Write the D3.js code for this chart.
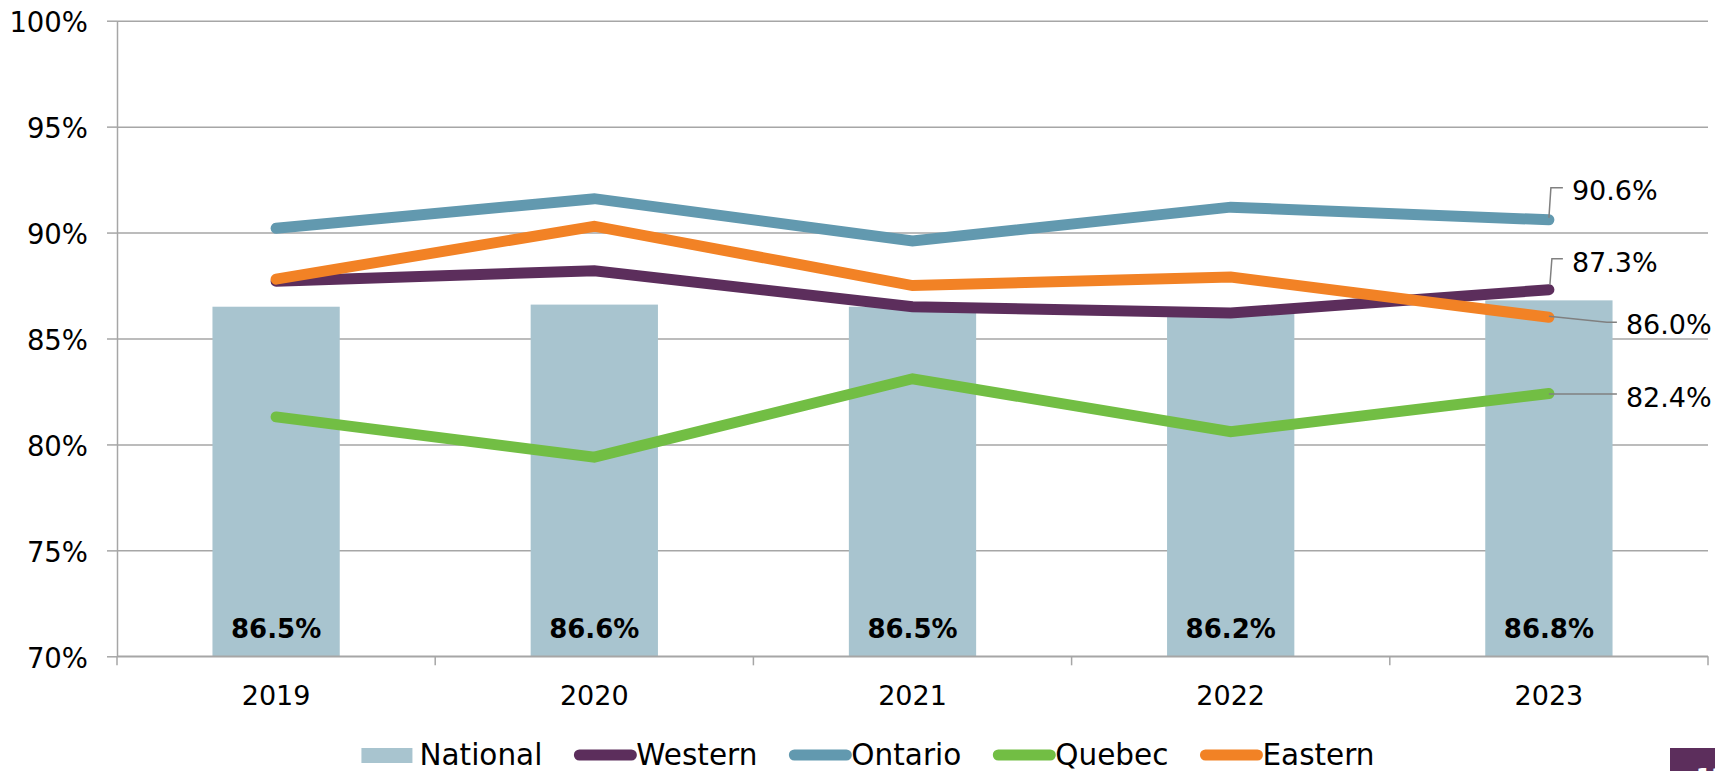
<!DOCTYPE html>
<html>
<head>
<meta charset="utf-8">
<script src="https://cdn.jsdelivr.net/npm/d3@7"></script>
<style>
  body { margin: 0; background: #fff; }
  svg text { font-family: "DejaVu Sans", sans-serif; fill: #000; }
</style>
</head>
<body>
<svg id="svg"></svg>
<script>
// data
const years = ["2019", "2020", "2021", "2022", "2023"];
const national = [86.5, 86.6, 86.5, 86.2, 86.8];
const western = [87.7, 88.2, 86.5, 86.2, 87.3];
const ontario = [90.2, 91.6, 89.6, 91.2, 90.6];
const quebec = [81.3, 79.4, 83.1, 80.6, 82.4];
const eastern = [87.8, 90.3, 87.5, 87.9, 86.0];
const yTicks = [70, 75, 80, 85, 90, 95, 100];
const legendNames = ["National", "Western", "Ontario", "Quebec", "Eastern"];

const width = 1715;
const height = 771;
const margin = { top: 20.7, right: 7, bottom: 114.7, left: 117 };

const colours = {
    National: "#a8c4cf",
    Western: "#5c2e5c",
    Ontario: "#6299af",
    Quebec: "#72be44",
    Eastern: "#f28225"
};

let svg = d3.select("#svg").attr("width", width).attr("height", height);

const x0 = margin.left, x1 = width - margin.right;
const yTop = margin.top, yBot = height - margin.bottom;

const xOuter = d3.scaleBand().domain(years).range([x0, x1]).padding(0);
const xBar = d3.scaleBand().domain(years).range([x0, x1])
    .paddingInner(0.6).paddingOuter(0.3);
const y = d3.scaleLinear().domain([70, 100]).range([yBot, yTop]);
const cx = d => xOuter(d) + xOuter.bandwidth() / 2;

// gridlines
svg.append("g")
    .attr("transform", `translate(${x0},0)`)
    .call(d3.axisLeft(y).tickValues(yTicks).tickSize(-(x1 - x0)).tickFormat(""))
    .call(g => g.select(".domain").remove())
    .selectAll("line")
    .attr("stroke", "#a6a6a6")
    .attr("stroke-width", 1.5);

// national bars
svg.append("g").selectAll("rect")
    .data(years)
    .join("rect")
    .attr("x", d => xBar(d))
    .attr("width", xBar.bandwidth())
    .attr("y", (d, i) => y(national[i]))
    .attr("height", (d, i) => yBot - y(national[i]))
    .attr("fill", colours.National);

// y axis
const yAxis = svg.append("g")
    .attr("transform", `translate(${x0},0)`)
    .call(d3.axisLeft(y).tickValues(yTicks).tickSize(10).tickSizeOuter(0)
        .tickPadding(19).tickFormat(d => d + "%"));
yAxis.select(".domain").attr("stroke", "#a6a6a6").attr("stroke-width", 1.5);
yAxis.selectAll(".tick line").attr("stroke", "#a6a6a6").attr("stroke-width", 1.5);
yAxis.selectAll(".tick text")
    .attr("dy", "0.4em")
    .style("font-size", "27.5px")
    .attr("fill", "#000");

// x axis line, boundary ticks and year labels
const xAxis = svg.append("g");
xAxis.append("line")
    .attr("x1", x0).attr("x2", x1)
    .attr("y1", yBot).attr("y2", yBot)
    .attr("stroke", "#a6a6a6").attr("stroke-width", 1.5);
xAxis.selectAll(".xtick")
    .data(years.concat(["end"]))
    .join("line")
    .attr("class", "xtick")
    .attr("x1", (d, i) => x0 + i * xOuter.step())
    .attr("x2", (d, i) => x0 + i * xOuter.step())
    .attr("y1", yBot).attr("y2", yBot + 9)
    .attr("stroke", "#a6a6a6").attr("stroke-width", 1.5);
xAxis.selectAll(".xlabel")
    .data(years)
    .join("text")
    .attr("class", "xlabel")
    .attr("x", cx)
    .attr("y", yBot + 49)
    .attr("text-anchor", "middle")
    .style("font-size", "27px")
    .text(d => d);

// bar value labels
svg.append("g").selectAll("text")
    .data(years)
    .join("text")
    .attr("x", cx)
    .attr("y", yBot - 18)
    .attr("text-anchor", "middle")
    .style("font-size", "26px")
    .style("font-weight", "bold")
    .text((d, i) => national[i].toFixed(1) + "%");

// regional lines, drawn in legend order so Eastern sits on top
const lineSeries = [
    { name: "Western", values: western },
    { name: "Ontario", values: ontario },
    { name: "Quebec", values: quebec },
    { name: "Eastern", values: eastern }
];

const line = d3.line()
    .x((d, i) => cx(years[i]))
    .y(d => y(d));

svg.append("g").selectAll("path")
    .data(lineSeries)
    .join("path")
    .attr("d", d => line(d.values))
    .attr("fill", "none")
    .attr("stroke", d => colours[d.name])
    .attr("stroke-width", 11)
    .attr("stroke-linecap", "round")
    .attr("stroke-linejoin", "miter");

// end labels with leader lines (offsets from the last point)
const endLabels = [
    { values: ontario, leader: [[0, -2], [2, -32], [14, -32]], tx: 23, ty: -20 },
    { values: western, leader: [[1, -5], [3, -31], [14, -31]], tx: 23, ty: -18 },
    { values: eastern, leader: [[0, -1], [58, 5], [68, 5]], tx: 77, ty: 17 },
    { values: quebec, leader: [[0, 0.5], [68, 0.5]], tx: 77, ty: 13 }
];

const last = years.length - 1;
const endG = svg.append("g");
endLabels.forEach(lab => {
    const px = cx(years[last]);
    const py = y(lab.values[last]);
    endG.append("path")
        .attr("d", d3.line()(lab.leader.map(p => [px + p[0], py + p[1]])))
        .attr("fill", "none")
        .attr("stroke", "#808080")
        .attr("stroke-width", 1.5);
    endG.append("text")
        .attr("x", px + lab.tx)
        .attr("y", py + lab.ty)
        .style("font-size", "27px")
        .text(lab.values[last].toFixed(1) + "%");
});

// legend
const legend = svg.append("g");
const legendY = 755;
let lx = 0;
legendNames.forEach((name, i) => {
    const item = legend.append("g");
    let sw;
    if (name === "National") {
        item.append("rect")
            .attr("x", lx).attr("y", legendY - 7)
            .attr("width", 51).attr("height", 15)
            .attr("fill", colours[name]);
        sw = 58;
    } else {
        item.append("line")
            .attr("x1", lx + 5).attr("x2", lx + 57)
            .attr("y1", legendY).attr("y2", legendY)
            .attr("stroke", colours[name])
            .attr("stroke-width", 11)
            .attr("stroke-linecap", "round");
        sw = 62;
    }
    const t = item.append("text")
        .attr("x", lx + sw)
        .attr("y", legendY + 10)
        .style("font-size", "29.5px")
        .text(name);
    lx += sw + t.node().getComputedTextLength() + 32;
});
lx -= 32;
legend.attr("transform", `translate(${868 - lx / 2},0)`);

// page number box, cut off at the corner as in the source
svg.append("rect")
    .attr("x", 1670).attr("y", 748)
    .attr("width", 45).attr("height", 23)
    .attr("fill", "#5c2e5c");
svg.append("text")
    .attr("x", 1696).attr("y", 784)
    .style("font-size", "22px")
    .style("font-weight", "bold")
    .style("fill", "#fff")
    .text("13");
</script>
</body>
</html>
